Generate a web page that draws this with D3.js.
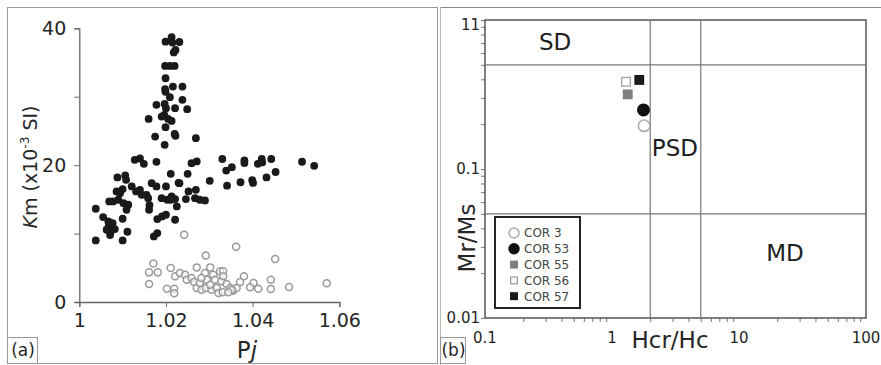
<!DOCTYPE html>
<html>
<head>
<meta charset="utf-8">
<script src="https://cdn.jsdelivr.net/npm/d3@7"></script>
<style>
  body { margin: 0; background: #fff; }
  svg { display: block; font-family: "DejaVu Sans", Verdana, sans-serif; }
</style>
</head>
<body>
<svg id="chart" width="881" height="365"></svg>
<script>
// ---- panel (a): Pj vs Km ----
const blackPj = [1.0199,1.0213,1.0215,1.0231,1.0222,1.0218,1.0198,1.0209,1.0220,1.0199,1.0198,1.0199,1.0216,1.0238,1.0209,1.0238,1.0197,1.0178,1.0200,1.0221,1.0249,1.0190,1.0196,1.0205,1.0160,1.0213,1.0199,1.0220,1.0222,1.0175,1.0197,1.0269,1.0178,1.0271,1.0259,
  1.0128,1.0140,1.0149,1.0211,1.0250,1.0229,1.0301,1.0088,1.0106,1.0108,1.0121,1.0100,1.0086,1.0094,1.0078,1.0069,1.0102,1.0113,1.0131,1.0140,1.0144,1.0155,1.0159,1.0167,1.0200,1.0231,1.0203,1.0190,1.0213,1.0221,1.0225,1.0252,1.0269,1.0246,1.0267,1.0278,1.0290,
  1.0191,1.0180,1.0200,1.0221,1.0161,1.0038,1.0055,1.0067,1.0072,1.0111,1.0038,1.0100,1.0172,1.0180,1.0100,1.0162,1.0068,1.0077,1.0082,1.0071,1.0109,1.0211,1.0090,1.0178,1.0063,
  1.0330,1.0339,1.0352,1.0381,1.0381,1.0412,1.0421,1.0422,1.0443,1.0453,1.0432,1.0399,1.0401,1.0372,1.0341,1.0514,1.0542];
const blackKm = [38.05,38.69,37.91,38.00,36.84,36.48,34.50,34.50,34.50,32.70,31.09,30.71,31.48,31.48,29.93,29.54,28.95,28.81,28.32,28.32,28.18,27.10,27.35,26.76,26.76,26.47,25.55,24.57,24.28,24.18,22.97,23.94,20.49,20.54,20.29,
  20.78,20.97,20.19,18.73,18.73,17.42,17.71,18.20,18.49,17.86,16.89,16.50,16.16,15.91,14.70,14.70,14.45,14.21,16.16,16.40,15.67,15.67,15.18,17.37,16.89,17.37,14.94,15.18,15.43,15.04,13.97,16.16,16.40,15.04,15.18,14.94,14.84,
  12.51,12.12,12.75,12.02,13.48,13.63,12.41,11.78,10.17,10.27,9.00,9.00,9.59,10.07,12.17,14.16,11.05,11.53,10.66,9.78,13.48,14.94,14.94,16.89,10.56,
  20.9,19.2,19.7,20.7,20.3,20.2,20.9,20.4,20.9,19.0,18.2,17.8,17.4,17.5,17.0,20.5,19.9];
const grayPj = [1.0242,1.0362,1.0452,1.0292,1.0171,1.0161,1.0181,1.0211,1.0161,1.0202,1.0219,1.0219,1.0221,1.0232,1.0244,1.0248,1.0271,1.0259,1.0265,1.0271,1.0282,1.0290,1.0294,1.0302,1.0309,1.0313,1.0325,1.0332,1.0292,1.0305,1.0317,1.0328,1.0340,1.0348,1.0355,1.0363,1.0332,1.0380,1.0402,1.0394,1.0413,1.0442,1.0442,1.0484,1.0571,1.0352,1.0371,1.0278,1.0321,1.0331,1.0344,1.0302,1.0282];
const grayKm = [9.83,8.08,6.28,6.81,5.64,4.33,4.33,4.96,2.63,1.95,1.95,1.27,3.75,4.23,3.99,3.26,5.06,3.50,2.92,2.04,1.80,4.23,3.26,5.06,3.99,3.26,4.48,4.48,2.04,1.80,2.04,3.02,2.63,2.04,1.65,2.04,3.75,3.75,2.77,2.14,1.95,3.26,1.90,2.19,2.73,1.80,2.92,2.77,1.31,1.41,1.41,2.53,3.50];
const pjTicks = [1, 1.02, 1.04, 1.06];
const kmTicks = [0, 10, 20, 30, 40];
const kmLabelled = [0, 20, 40];

// ---- panel (b): Day plot ----
const samples = ["COR 3", "COR 53", "COR 55", "COR 56", "COR 57"];
const hcrHc = [1.79, 1.77, 1.33, 1.29, 1.64];
const mrMs = [0.195, 0.249, 0.317, 0.385, 0.396];
const hcrBounds = [2, 5];
const mrBounds = [0.05, 0.5];
const domainNames = ["SD", "PSD", "MD"];
const hcrTicks = [0.1, 1, 10, 100];
const hcrTickLabels = ["0.1", "1", "10", "100"];
const mrTicks = [0.01, 0.1, 1];
const mrTickLabels = ["0.01", "0.1", "11"];

const svg = d3.select("#chart");
const ink = "#262626";

// panel frames
svg.append("rect").attr("x", 7.5).attr("y", 7.5).attr("width", 430).attr("height", 356)
  .attr("fill", "none").attr("stroke", "#9a9a9a");
svg.append("line").attr("x1", 440).attr("x2", 881).attr("y1", 7.5).attr("y2", 7.5)
  .attr("stroke", "#8a8a8a");
svg.append("line").attr("x1", 440.5).attr("x2", 440.5).attr("y1", 7).attr("y2", 365)
  .attr("stroke", "#bbb");

function panelTag(x, w, txt) {
  svg.append("rect").attr("x", x + 0.5).attr("y", 337.5).attr("width", w).attr("height", 26)
    .attr("fill", "#fff").attr("stroke", "#999");
  svg.append("text").attr("x", x + w / 2 + 1).attr("y", 356).attr("text-anchor", "middle")
    .attr("font-size", 17).attr("fill", ink).text(txt);
}

// ---------- (a) ----------
const xa = d3.scaleLinear().domain([1, 1.06]).range([79.3, 339.3]);
const ya = d3.scaleLinear().domain([0, 40]).range([302, 28.3]);

const gxa = svg.append("g").attr("transform", "translate(0,302)")
  .call(d3.axisBottom(xa).tickValues(pjTicks).tickSize(5).tickPadding(7)
    .tickFormat(d => d3.format("")(+d.toFixed(2))));
const gya = svg.append("g").attr("transform", "translate(79.3,0)")
  .call(d3.axisLeft(ya).tickValues(kmTicks).tickSize(5).tickPadding(8)
    .tickFormat(d => kmLabelled.includes(d) ? d : ""));
[gxa, gya].forEach(g => {
  g.select(".domain").attr("stroke", "#666").attr("stroke-width", 1.3);
  g.selectAll(".tick line").attr("stroke", "#666");
  g.selectAll("text").attr("font-size", 19).attr("fill", ink)
    .attr("font-family", "DejaVu Sans, Verdana, sans-serif");
});

svg.append("g").selectAll("circle").data(blackPj).join("circle")
  .attr("cx", d => xa(d)).attr("cy", (d, i) => ya(blackKm[i])).attr("r", 3.9)
  .attr("fill", "#1a1a1a");
svg.append("g").selectAll("circle").data(grayPj).join("circle")
  .attr("cx", d => xa(d)).attr("cy", (d, i) => ya(grayKm[i])).attr("r", 3.5)
  .attr("fill", "#fff").attr("fill-opacity", 0.6).attr("stroke", "#999").attr("stroke-width", 1.5);

const kmLabel = svg.append("text").attr("transform", "translate(37,167) rotate(-90)")
  .attr("text-anchor", "middle").attr("font-size", 19).attr("fill", ink);
kmLabel.append("tspan").attr("font-style", "italic").text("K");
kmLabel.append("tspan").text("m (x10");
kmLabel.append("tspan").attr("font-size", 12).attr("dy", -8).text("-3");
kmLabel.append("tspan").attr("dy", 8).text(" SI)");

const pjLabel = svg.append("text").attr("x", 247).attr("y", 358).attr("text-anchor", "middle")
  .attr("font-size", 23).attr("fill", ink);
pjLabel.append("tspan").text("P");
pjLabel.append("tspan").attr("font-style", "italic").text("j");

panelTag(7, 30, "(a)");

// ---------- (b) ----------
const xb = d3.scaleLog().domain([0.1, 100]).range([485, 866]);
const yb = d3.scaleLog().domain([0.01, 1]).range([318, 20]);

const minorX = [], minorY = [];
[0.1, 1, 10].forEach(b => { for (let k = 2; k <= 9; k++) minorX.push(b * k); });
[0.01, 0.1].forEach(b => { for (let k = 2; k <= 9; k++) minorY.push(b * k); });

const gxb = svg.append("g").attr("transform", "translate(0,318)")
  .call(d3.axisBottom(xb).tickValues(minorX).tickSize(4).tickFormat(""));
const gyb = svg.append("g").attr("transform", "translate(485,0)")
  .call(d3.axisLeft(yb).tickValues(minorY.concat(mrTicks)).tickSize(4).tickFormat(""));
[gxb, gyb].forEach(g => {
  g.select(".domain").remove();
  g.selectAll(".tick line").attr("stroke", "#777");
});

// plot box and domain boundaries
svg.append("rect").attr("x", xb(0.1)).attr("y", yb(1))
  .attr("width", xb(100) - xb(0.1)).attr("height", yb(0.01) - yb(1))
  .attr("fill", "none").attr("stroke", "#555").attr("stroke-width", 1.5);
svg.append("g").selectAll("line").data(hcrBounds).join("line")
  .attr("x1", d => xb(d)).attr("x2", d => xb(d)).attr("y1", yb(1)).attr("y2", yb(0.01))
  .attr("stroke", "#777").attr("stroke-width", 1.2);
svg.append("g").selectAll("line").data(mrBounds).join("line")
  .attr("x1", xb(0.1)).attr("x2", xb(100)).attr("y1", d => yb(d)).attr("y2", d => yb(d))
  .attr("stroke", "#777").attr("stroke-width", 1.2);

// tick labels
svg.append("g").selectAll("text").data(hcrTicks).join("text")
  .attr("x", d => xb(d)).attr("y", 343).attr("text-anchor", "middle")
  .attr("font-size", 15).attr("fill", ink).text((d, i) => hcrTickLabels[i]);
svg.append("g").selectAll("text").data(mrTicks).join("text")
  .attr("x", 480).attr("y", (d, i) => yb(d) + (i === 2 ? 5 : 0)).attr("dy", "0.35em")
  .attr("text-anchor", "end").attr("font-size", 15).attr("fill", ink)
  .text((d, i) => mrTickLabels[i]);

svg.append("text").attr("x", 670).attr("y", 348).attr("text-anchor", "middle")
  .attr("font-size", 23).attr("fill", ink).text("Hcr/Hc");
svg.append("text").attr("transform", "translate(475,238) rotate(-90)")
  .attr("text-anchor", "middle").attr("font-size", 23).attr("fill", ink).text("Mr/Ms");

// domain names (placed in data coordinates)
const namePos = [[0.356, 0.711], [3.13, 0.138], [23.0, 0.0273]];
svg.append("g").selectAll("text").data(domainNames).join("text")
  .attr("x", (d, i) => xb(namePos[i][0])).attr("y", (d, i) => yb(namePos[i][1]))
  .attr("dy", "0.36em").attr("text-anchor", "middle").attr("font-size", 23).attr("fill", "#1e1e1e")
  .text(d => d);

// sample symbols
const symStyle = {
  "COR 3":  { shape: "circle", fill: "#fff", stroke: "#aaa" },
  "COR 53": { shape: "circle", fill: "#111", stroke: "#111" },
  "COR 55": { shape: "square", fill: "#7f7f7f", stroke: "#7f7f7f" },
  "COR 56": { shape: "square", fill: "#fff", stroke: "#999" },
  "COR 57": { shape: "square", fill: "#1a1a1a", stroke: "#1a1a1a" }
};
function drawSym(g, name, cx, cy, size) {
  const s = symStyle[name];
  if (s.shape === "circle") {
    g.append("circle").attr("cx", cx).attr("cy", cy).attr("r", size / 2)
      .attr("fill", s.fill).attr("stroke", s.stroke).attr("stroke-width", 1.5);
  } else {
    const a = size * 0.75;
    g.append("rect").attr("x", cx - a / 2).attr("y", cy - a / 2).attr("width", a).attr("height", a)
      .attr("fill", s.fill).attr("stroke", s.stroke).attr("stroke-width", 1.2);
  }
}
const pts = svg.append("g");
samples.forEach((n, i) => drawSym(pts, n, xb(hcrHc[i]), yb(mrMs[i]), 11.5));

// legend
const lg = svg.append("g");
lg.append("rect").attr("x", 495).attr("y", 217).attr("width", 85).attr("height", 91)
  .attr("fill", "#fff").attr("stroke", "#222").attr("stroke-width", 2);
samples.forEach((n, i) => {
  const cy = 233 + i * 15.8;
  drawSym(lg, n, 514, cy, n === "COR 3" || n === "COR 53" ? 10 : 9);
  lg.append("text").attr("x", 524).attr("y", cy).attr("dy", "0.36em")
    .attr("font-size", 12).attr("fill", "#444").text(n);
});

panelTag(440, 25, "(b)");
</script>
</body>
</html>
